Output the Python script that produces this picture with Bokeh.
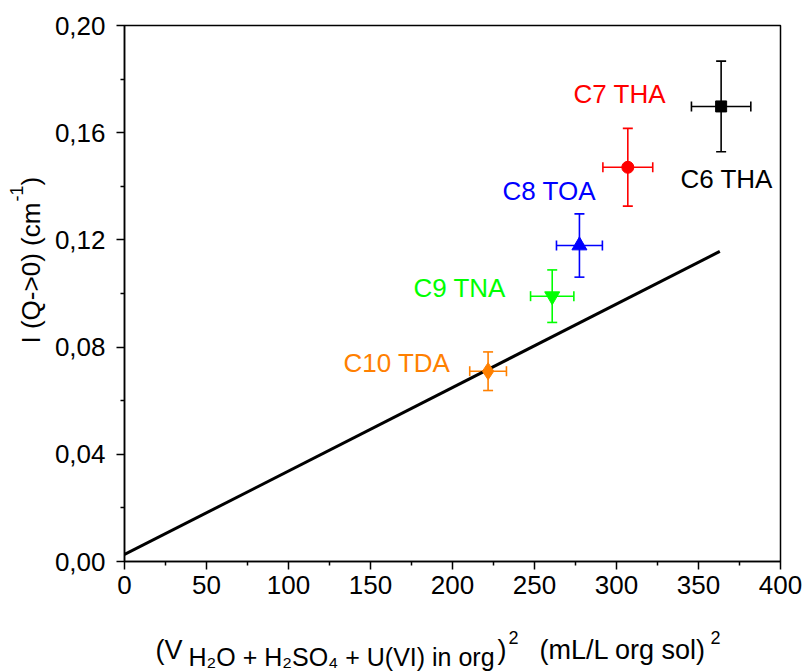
import math
from bokeh.plotting import figure
from bokeh.layouts import row, column
from bokeh.models import Range1d, FixedTicker, Whisker, TeeHead, ColumnDataSource
from bokeh.core.properties import value
from bokeh.embed import file_html
from bokeh.resources import INLINE

# ---- data ----
names = ["C6 THA", "C7 THA", "C8 TOA", "C9 TNA", "C10 TDA"]
x_vals = [363.8, 306.9, 277.4, 260.8, 221.7]
y_vals = [0.1698, 0.1471, 0.1179, 0.0990, 0.0710]
x_err = [18.1, 15.2, 14.0, 13.2, 11.2]
y_err = [0.0169, 0.0145, 0.0118, 0.0098, 0.0072]
colors = ["#000000", "#FF0000", "#0000FF", "#00FF00", "#FF8000"]
markers = ["square", "circle", "triangle", "inverted_triangle", "diamond"]
marker_sizes = [11, 12, 15, 15, 17]
label_x = [339.0, 273.8, 230.5, 176.2, 133.5]
label_y = [0.1429, 0.1743, 0.1381, 0.1022, 0.0741]

fit_x = [0, 363]
fit_y = [0.0026, 0.1157]

x_ticks = [0, 50, 100, 150, 200, 250, 300, 350, 400]
x_minor = [25, 75, 125, 175, 225, 275, 325, 375]
y_ticks = [0, 0.04, 0.08, 0.12, 0.16, 0.20]
y_minor = [0.02, 0.06, 0.10, 0.14, 0.18]
y_tick_labels = ["0,00", "0,04", "0,08", "0,12", "0,16", "0,20"]

# axis title pieces: (text, font size, rise: 0 normal, -1 subscript, 1 superscript)
x_title = [("(V", "27px", 0),
           ("H\u2082O + H\u2082SO\u2084 + U(VI) in org", "25px", -1),
           (")", "27px", 0),
           ("2", "18px", 1),
           ("(mL/L org sol)", "27px", 0),
           ("2", "18px", 1)]
y_title = [("I (Q->0) (cm", "26px", 0),
           ("-1", "18px", 1),
           (")", "26px", 0)]

FONT = "Liberation Sans"
W, H = 804, 672
LEFT_W = 48
MAIN_H = 620

# ---------------- main plot ----------------
p = figure(frame_width=656, frame_height=536, title=None,
           min_border_left=124 - LEFT_W, min_border_right=24,
           min_border_top=25, min_border_bottom=MAIN_H - 25 - 536,
           x_range=Range1d(0, 400), y_range=Range1d(0, 0.2),
           output_backend="svg", toolbar_location=None, frame_align=False,
           background_fill_color="white", border_fill_color="white")

p.grid.visible = False
p.outline_line_color = "black"
p.outline_line_width = 1.5

for ax in (p.xaxis[0], p.yaxis[0]):
    ax.axis_line_width = 1.5
    ax.major_tick_line_width = 1.5
    ax.minor_tick_line_width = 1.5
    ax.major_tick_in = 0
    ax.major_tick_out = 8
    ax.minor_tick_in = 0
    ax.minor_tick_out = 4
    ax.major_label_text_font = FONT
    ax.major_label_text_font_size = "26px"
    ax.major_label_text_color = "black"

p.xaxis.ticker = FixedTicker(ticks=x_ticks, minor_ticks=x_minor)
p.yaxis.ticker = FixedTicker(ticks=y_ticks, minor_ticks=y_minor)
p.yaxis.major_label_overrides = {t: l for t, l in zip(y_ticks, y_tick_labels)}
p.xaxis.major_label_standoff = 6
p.yaxis.major_label_standoff = 11

# fit line
p.line(fit_x, fit_y, line_color="black", line_width=3)

# error bars + markers
for i in range(len(names)):
    src = ColumnDataSource(dict(x=[x_vals[i]], y=[y_vals[i]],
                                ylo=[y_vals[i] - y_err[i]], yhi=[y_vals[i] + y_err[i]],
                                xlo=[x_vals[i] - x_err[i]], xhi=[x_vals[i] + x_err[i]]))
    for dim, base, lo, hi in (("height", "x", "ylo", "yhi"), ("width", "y", "xlo", "xhi")):
        p.add_layout(Whisker(source=src, base=base, lower=lo, upper=hi, dimension=dim,
                             line_color=colors[i], line_width=1.6, level="underlay",
                             upper_head=TeeHead(size=10, line_color=colors[i], line_width=1.6),
                             lower_head=TeeHead(size=10, line_color=colors[i], line_width=1.6)))
    p.scatter([x_vals[i]], [y_vals[i]], marker=markers[i], size=marker_sizes[i],
              fill_color=colors[i], line_color=colors[i])

# point labels
lab_src = ColumnDataSource(dict(x=label_x, y=label_y, t=names, c=colors))
p.text(x="x", y="y", text="t", text_color="c", source=lab_src,
       text_font=value(FONT), text_font_size="26px",
       text_align="left", text_baseline="middle")


# ---------------- title panels: data units = canvas pixels (y up) ----------------
def blank(width, height):
    f = figure(width=width, height=height, min_border=0, title=None,
               min_border_left=0, min_border_right=0,
               min_border_top=0, min_border_bottom=0,
               x_range=Range1d(0, width), y_range=Range1d(0, height),
               x_axis_location=None, y_axis_location=None,
               output_backend="svg", toolbar_location=None, frame_align=False,
               background_fill_color="white", border_fill_color="white")
    f.grid.visible = False
    f.outline_line_color = None
    return f

# left panel: y axis title, rotated (page x 0..48, page y 0..672)
left = blank(LEFT_W, H)
y_pos = [343, 201, 185]          # where each piece starts (page y)
y_mid = {0: 30, 1: 16}           # middle line (page x) for normal / superscript
left.text(x=[y_mid[r] for _, _, r in y_title], y=[H - v for v in y_pos],
          text=[t for t, _, _ in y_title],
          text_font_size=[s for _, s, _ in y_title],
          angle=math.pi / 2, text_font=value(FONT), text_color="black",
          text_align="left", text_baseline="middle")

# bottom panel: x axis title (page x 48..804, page y 620..672)
bottom = blank(W - LEFT_W, H - MAIN_H)
x_pos = [155, 188, 497, 508, 539, 710]   # where each piece starts (page x)
x_mid = {0: 649, -1: 656, 1: 637}        # middle line (page y)
bottom.text(x=[v - LEFT_W for v in x_pos], y=[H - x_mid[r] for _, _, r in x_title],
            text=[t for t, _, _ in x_title],
            text_font_size=[s for _, s, _ in x_title],
            text_font=value(FONT), text_color="black",
            text_align="left", text_baseline="middle")

layout = row(left, column(p, bottom, spacing=0), spacing=0)
open("out.html", "w").write(file_html(layout, INLINE))
